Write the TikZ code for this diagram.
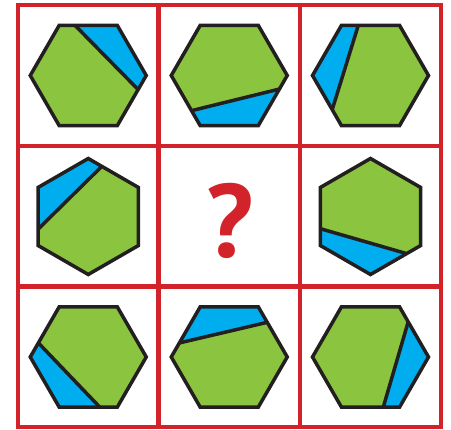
\documentclass[tikz,border=0pt]{standalone}
\usepackage{fontspec}
\setsansfont{PT Sans}
\usepackage{tikz}
\usetikzlibrary{calc}

\definecolor{gridred}{HTML}{D2232A}
\definecolor{hexgreen}{HTML}{8BC43F}
\definecolor{hexblue}{HTML}{00AEEF}
\definecolor{outline}{HTML}{231F20}

% corners of a hexagon: name, centre, rotation
\newcommand{\hexcorners}[3]{%
  \foreach \k in {1,...,6}
    \coordinate (#1-\k) at ($(#2)+({#3+60*(\k-1)}:58)$);%
}
\newcommand{\hexfill}[1]{\fill[hexgreen] (#1-1) \foreach \k in {2,...,6} {-- (#1-\k)} -- cycle;}
\newcommand{\hexedge}[1]{\draw[hexline] (#1-1) \foreach \k in {2,...,6} {-- (#1-\k)} -- cycle;}

\begin{document}
\begin{tikzpicture}[
    x=1pt, y=1pt,
    gridline/.style={draw=gridred, line width=4.8pt},
    hexline/.style={draw=outline, line width=3.5pt},
    cutline/.style={draw=outline, line width=3.5pt},
    bluepart/.style={fill=hexblue},
    qmark/.style={text=gridred, font=\fontsize{104}{104}\selectfont\sffamily\bfseries, inner sep=0pt}
]
    \useasboundingbox (0,0) rectangle (451,-430);

    % cell centres
    \foreach \c/\x in {1/88.25, 2/229.25, 3/370.5}
        \foreach \r/\y in {1/-75.5, 2/-216.5, 3/-357}
            \coordinate (c\r\c) at (\x,\y);

    % row 1
    \hexcorners{a}{c11}{0}
    \coordinate (a-p) at ($(a-3)!0.27!(a-2)$);
    \coordinate (a-q) at ($(a-1)!0.28!(a-6)$);
    \hexfill{a}
    \fill[bluepart] (a-p) -- (a-2) -- (a-1) -- (a-q) -- cycle;
    \draw[cutline] (a-p) -- (a-q);
    \hexedge{a}

    \hexcorners{b}{c12}{0}
    \coordinate (b-p) at ($(b-4)!0.70!(b-5)$);
    \coordinate (b-q) at ($(b-1)!0.27!(b-6)$);
    \hexfill{b}
    \fill[bluepart] (b-p) -- (b-5) -- (b-6) -- (b-q) -- cycle;
    \draw[cutline] (b-p) -- (b-q);
    \hexedge{b}

    \hexcorners{c}{c13}{0}
    \coordinate (c-p) at ($(c-3)!0.29!(c-2)$);
    \coordinate (c-q) at ($(c-4)!0.68!(c-5)$);
    \hexfill{c}
    \fill[bluepart] (c-p) -- (c-3) -- (c-4) -- (c-q) -- cycle;
    \draw[cutline] (c-p) -- (c-q);
    \hexedge{c}

    % row 2
    \hexcorners{d}{c21}{30}
    \coordinate (d-p) at ($(d-2)!0.27!(d-1)$);
    \coordinate (d-q) at ($(d-3)!0.72!(d-4)$);
    \hexfill{d}
    \fill[bluepart] (d-p) -- (d-2) -- (d-3) -- (d-q) -- cycle;
    \draw[cutline] (d-p) -- (d-q);
    \hexedge{d}

    \node[qmark] (ask) at (230,-220.5) {?};

    \hexcorners{f}{c23}{30}
    \coordinate (f-p) at ($(f-3)!0.71!(f-4)$);
    \coordinate (f-q) at ($(f-6)!0.28!(f-5)$);
    \hexfill{f}
    \fill[bluepart] (f-p) -- (f-4) -- (f-5) -- (f-q) -- cycle;
    \draw[cutline] (f-p) -- (f-q);
    \hexedge{f}

    % row 3
    \hexcorners{g}{c31}{0}
    \coordinate (g-p) at ($(g-4)!0.28!(g-3)$);
    \coordinate (g-q) at ($(g-5)!0.70!(g-6)$);
    \hexfill{g}
    \fill[bluepart] (g-p) -- (g-4) -- (g-5) -- (g-q) -- cycle;
    \draw[cutline] (g-p) -- (g-q);
    \hexedge{g}

    \hexcorners{h}{c32}{0}
    \coordinate (h-p) at ($(h-4)!0.28!(h-3)$);
    \coordinate (h-q) at ($(h-2)!0.31!(h-1)$);
    \hexfill{h}
    \fill[bluepart] (h-p) -- (h-3) -- (h-2) -- (h-q) -- cycle;
    \draw[cutline] (h-p) -- (h-q);
    \hexedge{h}

    \hexcorners{i}{c33}{0}
    \coordinate (i-p) at ($(i-2)!0.30!(i-1)$);
    \coordinate (i-q) at ($(i-5)!0.72!(i-6)$);
    \hexfill{i}
    \fill[bluepart] (i-p) -- (i-1) -- (i-6) -- (i-q) -- cycle;
    \draw[cutline] (i-p) -- (i-q);
    \hexedge{i}

    % grid
    \draw[gridline] (18,-5) rectangle (441,-427);
    \foreach \x in {158.5, 300}
        \draw[gridline] (\x,-5) -- (\x,-427);
    \foreach \y in {-146, -286.5}
        \draw[gridline] (18,\y) -- (441,\y);
\end{tikzpicture}
\end{document}
